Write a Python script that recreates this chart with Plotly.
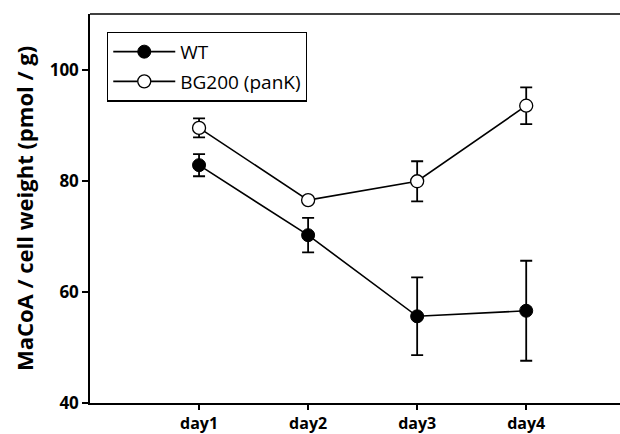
import plotly.graph_objects as go

days = ["day1", "day2", "day3", "day4"]
xpos = [1, 2, 3, 4]
wt = [82.8, 70.2, 55.6, 56.6]
wt_err = [2.0, 3.1, 7.0, 9.0]
bg = [89.5, 76.5, 79.9, 93.5]
bg_err = [1.7, 0.4, 3.6, 3.3]

fig = go.Figure()
fig.add_trace(go.Scatter(
    x=xpos, y=wt, name="WT", mode="lines+markers", legendgroup="a",
    line=dict(color="black", width=1.6),
    marker=dict(symbol="circle", size=13, color="black", line=dict(color="black", width=1)),
    error_y=dict(type="data", array=wt_err, visible=True, color="black", thickness=1.8, width=6),
))
fig.add_trace(go.Scatter(
    x=xpos, y=bg, name="BG200 (panK)", mode="lines+markers", legendgroup="b",
    line=dict(color="black", width=1.6),
    marker=dict(symbol="circle", size=13, color="white", line=dict(color="black", width=1.3)),
    error_y=dict(type="data", array=bg_err, visible=True, color="black", thickness=1.8, width=6),
))

tickfont = dict(size=17, color="black", family="Open Sans, sans-serif", weight="bold")
xtickfont = dict(size=16, color="black", family="Open Sans, sans-serif", weight="bold")

fig.update_layout(
    width=620, height=434,
    margin=dict(l=90, r=0, t=14, b=31),
    paper_bgcolor="white", plot_bgcolor="white",
    font=dict(family="Open Sans, Liberation Sans, sans-serif", color="black"),
    showlegend=True,
    legend=dict(
        x=0.032, y=0.955, xanchor="left", yanchor="top",
        bordercolor="black", borderwidth=1.3, bgcolor="white",
        font=dict(size=19, color="black"),
        tracegroupgap=2, itemwidth=62,
    ),
    xaxis=dict(
        range=[0, 4.86], tickmode="array", tickvals=xpos, ticktext=days,
        showline=True, linecolor="black", linewidth=1.5, automargin=False,
        ticks="outside", ticklen=5, tickwidth=1.5, tickcolor="black",
        showgrid=False, zeroline=False, tickfont=xtickfont,
    ),
    yaxis=dict(
        range=[40, 110], tickvals=[40, 60, 80, 100], automargin=False,
        showline=True, linecolor="black", linewidth=1.5,
        ticks="outside", ticklen=6, tickwidth=1.5, tickcolor="black",
        showgrid=False, zeroline=False, tickfont=tickfont,
        title=dict(text="MaCoA / cell weight (pmol / g)", standoff=10,
                   font=dict(size=22, color="black", family="Open Sans, sans-serif", weight="bold")),
    ),
    shapes=[dict(type="line", xref="paper", yref="paper", x0=0, x1=1, y0=1, y1=1,
                 line=dict(color="black", width=1.5))],
)

fig.write_html("out.html")
